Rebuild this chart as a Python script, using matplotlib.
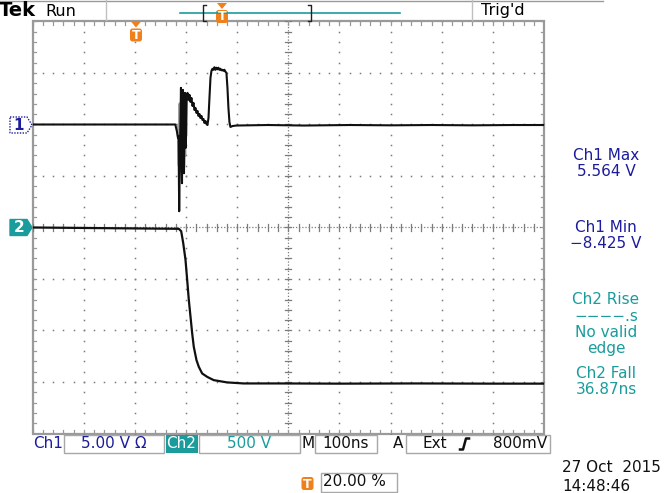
import numpy as np
import matplotlib
matplotlib.use('Agg')
import matplotlib.pyplot as plt
from matplotlib.patches import Rectangle, Polygon, FancyBboxPatch

# ---------------- data (time in ns, volts) ----------------
ch1_t = [-200, 78.9, 81.9, 84.2, 85.2, 86.5, 87.7, 89.1, 90.0, 91.0, 92.0, 93.0, 93.9,
         94.9, 95.9, 96.9, 97.9, 98.8, 99.8, 100.8, 102.7, 104.7, 106.6, 108.6, 110.5,
         112.5, 114.5, 116.4, 118.4, 120.3, 122.3, 124.2, 126.2, 128.1, 130.1, 132.0,
         134.0, 135.9, 137.9, 139.8, 141.8, 143.8, 145.7, 147.7, 149.6, 151.6, 153.5,
         155.5, 157.4, 159.4, 161.3, 163.3, 165.2, 167.2, 169.1, 171.1, 173.0, 175.0,
         177.0, 178.9, 180.9, 182.8, 184.8, 186.7, 190.6, 198.4, 260, 330, 420, 500,
         580, 660, 740, 800]
ch1_v = [0, 0, -0.63, -1.32, -1.12, -8.42, -3.27, 0.63, 3.56, -2.29, -5.70, 2.10, 3.36,
         -3.27, -4.73, 1.61, 3.07, -2.29, -1.32, 2.58, 3.07, 2.39, 2.88, 2.19, 2.58,
         1.80, 2.10, 1.41, 1.61, 1.12, 1.32, 0.83, 1.02, 0.63, 0.83, 0.44,
         0.54, 0.15, 0.34, 0.05, -0.05, 0.63, 2.58, 4.53, 5.21, 5.41, 5.31,
         5.56, 5.31, 5.51, 5.36, 5.51, 5.31, 5.41, 5.26, 5.31, 5.21, 5.31,
         5.12, 5.02, 3.56, 1.61, 0.24, -0.24, -0.15, -0.10, -0.05, -0.10, -0.05, -0.08,
         -0.05, -0.08, -0.05, -0.05]
# persistence (grey) samples in the ringing burst
ch1g_t = [85, 86, 87, 88, 89, 90, 91, 92, 93, 94, 95, 96, 97, 98, 99, 100, 101]
ch1g_v = [-1.0, 0, -4.0, 2.0, -3.0, 1.5, -4.5, 2.5, -2.0, 3.0, -4.0, 1.0, -3.0, 2.0, -1.0,
          2.0, 2.5]

ch2_t = [-200, 85.7, 90.4, 94.3, 98.8, 102.1, 105.3, 108.6, 111.9, 115.0, 120.3, 124.8,
         131.4, 141.2, 154.1, 180.3, 212.7, 284.4, 400, 550, 700, 800]
ch2_v = [0, -12.7, -36, -149, -312, -507, -702, -864, -1027, -1157, -1287, -1352,
         -1417, -1450, -1482, -1504, -1514, -1514, -1516, -1514, -1516, -1516]

ch1_vdiv, ch2_vdiv = 5.0, 500.0      # V/div
ch1_pos, ch2_pos = 2.0, 0.0          # divisions
t_div = 100                          # ns/div

BLUE = '#1c1c9c'
TEAL = '#1a9c9c'
ORANGE = '#f0801c'
GRAY = '#9a9a9a'

W, H = 665, 493
fig = plt.figure(figsize=(6.65, 4.93), dpi=100)
fig.patch.set_facecolor('white')

L, R, T, B = 32.7, 544.0, 21.5, 433.5
ax = fig.add_axes([L / W, 1 - B / H, (R - L) / W, (B - T) / H])
ax.set_xlim(-2 * t_div, 8 * t_div)
ax.set_ylim(-4, 4)
ax.axis('off')

# ---------- graticule ----------
dotc = '#7c7c7c'
sub = np.arange(-4, 4.001, 0.2)
subx = np.arange(-200, 800.001, 20)
for k in range(-1, 8):
    xv = k * t_div
    if xv == 300:
        continue
    ax.plot(np.full_like(sub, xv), sub, ls='none', marker='s', ms=1.1, mew=0, color=dotc)
for yv in [-3, -2, -1, 1, 2, 3]:
    ax.plot(subx, np.full_like(subx, yv), ls='none', marker='s', ms=1.1, mew=0, color=dotc)
# center lines (fine dotted + ticks)
ax.plot([300, 300], [-4, 4], color=dotc, lw=0.9, ls=(0, (1, 1.5)))
ax.plot([-200, 800], [0, 0], color=dotc, lw=0.9, ls=(0, (1, 1.5)))
for yv in sub:
    ax.plot([294, 306], [yv, yv], color=dotc, lw=0.9)
for xv in subx:
    ax.plot([xv, xv], [-0.06, 0.06], color=dotc, lw=0.9)
# frame ticks
for xv in subx:
    ax.plot([xv, xv], [4, 3.93], color=GRAY, lw=0.9)
    ax.plot([xv, xv], [-4, -3.93], color=GRAY, lw=0.9)
for yv in sub:
    ax.plot([-200, -194], [yv, yv], color=GRAY, lw=0.9)
    ax.plot([800, 794], [yv, yv], color=GRAY, lw=0.9)
ax.add_patch(Rectangle((-200, -4), 1000, 8, fill=False, ec=GRAY, lw=1.6, clip_on=False))

# ---------- traces ----------
ax.plot(ch1g_t, np.array(ch1g_v) / ch1_vdiv + ch1_pos, color='#a0a0a0', lw=2.4, zorder=4)
ax.plot(ch1_t, np.array(ch1_v) / ch1_vdiv + ch1_pos, color='#101010', lw=1.5, zorder=5)
ax.plot(ch2_t, np.array(ch2_v) / ch2_vdiv + ch2_pos, color='#101010', lw=1.6, zorder=5)

# ---------- overlay in pixel coordinates ----------
ov = fig.add_axes([0, 0, 1, 1])
ov.set_xlim(0, W)
ov.set_ylim(H, 0)
ov.axis('off')
ov.patch.set_alpha(0)

FS = 11


def t_icon(xc, ytop, tri=True):
    if tri:
        ov.add_patch(Polygon([(xc - 5, ytop), (xc + 5, ytop), (xc, ytop + 6)],
                             closed=True, color=ORANGE, lw=0))
        ytop += 6
    ov.add_patch(FancyBboxPatch((xc - 6, ytop + 1), 12, 13,
                                boxstyle='round,pad=0,rounding_size=2.5',
                                color=ORANGE, lw=0))
    ov.text(xc, ytop + 8, 'T', color='white', fontsize=9, fontweight='bold',
            ha='center', va='center')


# top bar
ov.plot([0, 603], [0.6, 0.6], color=GRAY, lw=1)
ov.text(-1, 11, 'Tek', fontsize=14, fontweight='bold', va='center', ha='left')
ov.text(45, 11, 'Run', fontsize=11.5, va='center', ha='left')
ov.plot([106, 106], [0, 20], color='#c0c0c0', lw=1)
ov.plot([472, 472], [0, 20], color='#c0c0c0', lw=1)
ov.plot([180, 400], [13, 13], color=TEAL, lw=1.2)
ov.plot([206, 203, 203, 206], [5, 5, 21, 21], color='#202020', lw=1)
ov.plot([308, 311, 311, 308], [5, 5, 21, 21], color='#202020', lw=1)
t_icon(222, 3, tri=True)
ov.text(481, 11, "Trig'd", fontsize=11.5, va='center', ha='left')

# trigger position marker on graticule
t_icon(136, 21.5, tri=True)

# channel markers
ov.add_patch(Polygon([(10, 117), (27, 117), (32, 125), (27, 133), (10, 133)], closed=True,
                     fc='white', ec=BLUE, lw=1, ls=(0, (1, 1))))
ov.text(19, 125.5, '1', color=BLUE, fontsize=11, fontweight='bold', ha='center', va='center')
ov.add_patch(Polygon([(10, 219.5), (27, 219.5), (32, 227.5), (27, 235.5), (10, 235.5)],
                     closed=True, fc=TEAL, ec=TEAL, lw=1))
ov.text(19, 228, '2', color='white', fontsize=11, fontweight='bold', ha='center', va='center')

# right-side measurements
meas = [('Ch1 Max', 155, BLUE), ('5.564 V', 171.5, BLUE),
        ('Ch1 Min', 228, BLUE), ('\u22128.425 V', 243.5, BLUE),
        ('Ch2 Rise', 300, TEAL), ('\u2212\u2212\u2212\u2212.s', 316.5, TEAL),
        ('No valid', 332.5, TEAL), ('edge', 348.5, TEAL),
        ('Ch2 Fall', 373, TEAL), ('36.87ns', 389.5, TEAL)]
for s, yy, c in meas:
    ov.text(606, yy, s, color=c, fontsize=FS, ha='center', va='center')

# bottom status bar
yb = 444
bc = '#a8a8a8'
ov.text(33, yb, 'Ch1', color=BLUE, fontsize=FS, va='center', ha='left')
ov.add_patch(Rectangle((64, 435), 100, 18, fill=False, ec=bc, lw=1))
ov.text(114, yb, '5.00 V \u03a9', color=BLUE, fontsize=FS, va='center', ha='center')
ov.add_patch(Rectangle((165.5, 435), 32, 18, color=TEAL, lw=0))
ov.text(181.5, yb, 'Ch2', color='white', fontsize=FS, va='center', ha='center')
ov.add_patch(Rectangle((198.5, 435), 101, 18, fill=False, ec=bc, lw=1))
ov.text(249, yb, '500 V', color=TEAL, fontsize=FS, va='center', ha='center')
ov.text(308, yb, 'M', color='#101010', fontsize=FS, va='center', ha='center')
ov.add_patch(Rectangle((315, 435), 62, 18, fill=False, ec=bc, lw=1))
ov.text(346, yb, '100ns', color='#101010', fontsize=FS, va='center', ha='center')
ov.text(398, yb, 'A', color='#101010', fontsize=FS, va='center', ha='center')
ov.add_patch(Rectangle((405.5, 435), 144, 18, fill=False, ec=bc, lw=1))
ov.text(435, yb, 'Ext', color='#101010', fontsize=FS, va='center', ha='center')
ov.plot([460, 463, 466, 469], [449.5, 449.5, 438.5, 438.5], color='#101010', lw=1.8)
ov.text(520, yb, '800mV', color='#101010', fontsize=FS, va='center', ha='center')

# trigger percent
t_icon(307.5, 476, tri=False)
ov.add_patch(Rectangle((320.5, 472.5), 76, 19, fill=False, ec=bc, lw=1))
ov.text(323, 482, '20.00 %', color='#101010', fontsize=FS, va='center', ha='left')

# date/time
ov.text(562, 467.5, '27 Oct  2015', color='#101010', fontsize=FS, va='center', ha='left')
ov.text(562, 486.5, '14:48:46', color='#101010', fontsize=FS, va='center', ha='left')

fig.savefig('out.png', dpi=100, facecolor='white')
